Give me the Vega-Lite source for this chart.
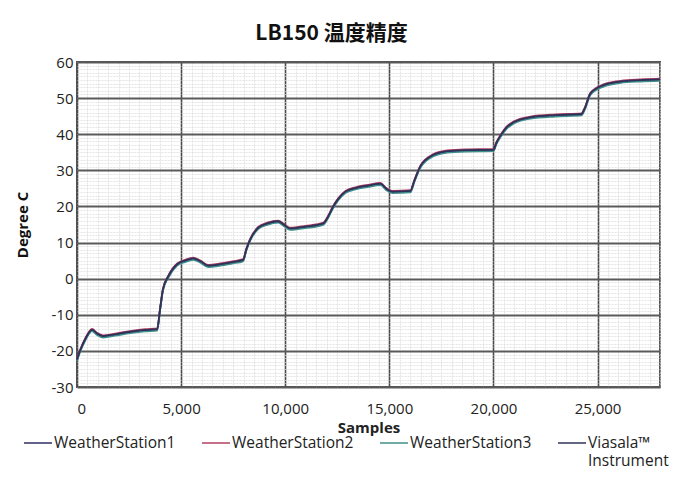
{
  "$schema": "https://vega.github.io/schema/vega-lite/v6.json",
  "width": 583,
  "height": 325,
  "autosize": "none",
  "padding": {"left": 77, "top": 62, "right": 32, "bottom": 94},
  "background": "white",
  "title": {
    "text": "LB150 温度精度",
    "anchor": "middle",
    "dx": -37,
    "offset": 11,
    "font": "Noto Sans CJK SC",
    "fontSize": 21,
    "fontWeight": "bold",
    "color": "#111"
  },
  "data": {
    "values": [
      {"x": 0, "WeatherStation1": -22.5, "WeatherStation2": -22.2, "WeatherStation3": -22.8, "Viasala™ Instrument": -22.4},
      {"x": 150, "WeatherStation1": -20, "WeatherStation2": -19.7, "WeatherStation3": -20.3, "Viasala™ Instrument": -19.9},
      {"x": 400, "WeatherStation1": -16.8, "WeatherStation2": -16.5, "WeatherStation3": -17.1, "Viasala™ Instrument": -16.7},
      {"x": 720, "WeatherStation1": -14.2, "WeatherStation2": -13.9, "WeatherStation3": -14.5, "Viasala™ Instrument": -14.1},
      {"x": 960, "WeatherStation1": -15.3, "WeatherStation2": -15.0, "WeatherStation3": -15.6, "Viasala™ Instrument": -15.2},
      {"x": 1250, "WeatherStation1": -16, "WeatherStation2": -15.7, "WeatherStation3": -16.3, "Viasala™ Instrument": -15.9},
      {"x": 1830, "WeatherStation1": -15.5, "WeatherStation2": -15.2, "WeatherStation3": -15.8, "Viasala™ Instrument": -15.4},
      {"x": 2550, "WeatherStation1": -14.8, "WeatherStation2": -14.5, "WeatherStation3": -15.1, "Viasala™ Instrument": -14.7},
      {"x": 3270, "WeatherStation1": -14.3, "WeatherStation2": -14.0, "WeatherStation3": -14.6, "Viasala™ Instrument": -14.2},
      {"x": 3850, "WeatherStation1": -14.1, "WeatherStation2": -13.8, "WeatherStation3": -14.4, "Viasala™ Instrument": -14.0},
      {"x": 3990, "WeatherStation1": -8.5, "WeatherStation2": -8.2, "WeatherStation3": -8.8, "Viasala™ Instrument": -8.4},
      {"x": 4130, "WeatherStation1": -3, "WeatherStation2": -2.7, "WeatherStation3": -3.3, "Viasala™ Instrument": -2.9},
      {"x": 4380, "WeatherStation1": 0.5, "WeatherStation2": 0.8, "WeatherStation3": 0.2, "Viasala™ Instrument": 0.6},
      {"x": 4810, "WeatherStation1": 3.9, "WeatherStation2": 4.2, "WeatherStation3": 3.6, "Viasala™ Instrument": 4.0},
      {"x": 5190, "WeatherStation1": 4.9, "WeatherStation2": 5.2, "WeatherStation3": 4.6, "Viasala™ Instrument": 5.0},
      {"x": 5580, "WeatherStation1": 5.5, "WeatherStation2": 5.8, "WeatherStation3": 5.2, "Viasala™ Instrument": 5.6},
      {"x": 5910, "WeatherStation1": 4.8, "WeatherStation2": 5.1, "WeatherStation3": 4.5, "Viasala™ Instrument": 4.9},
      {"x": 6300, "WeatherStation1": 3.5, "WeatherStation2": 3.8, "WeatherStation3": 3.2, "Viasala™ Instrument": 3.6},
      {"x": 6880, "WeatherStation1": 3.9, "WeatherStation2": 4.2, "WeatherStation3": 3.6, "Viasala™ Instrument": 4.0},
      {"x": 7450, "WeatherStation1": 4.5, "WeatherStation2": 4.8, "WeatherStation3": 4.2, "Viasala™ Instrument": 4.6},
      {"x": 7980, "WeatherStation1": 5.1, "WeatherStation2": 5.4, "WeatherStation3": 4.8, "Viasala™ Instrument": 5.2},
      {"x": 8130, "WeatherStation1": 8, "WeatherStation2": 8.3, "WeatherStation3": 7.7, "Viasala™ Instrument": 8.1},
      {"x": 8320, "WeatherStation1": 10.8, "WeatherStation2": 11.1, "WeatherStation3": 10.5, "Viasala™ Instrument": 10.9},
      {"x": 8700, "WeatherStation1": 14, "WeatherStation2": 14.3, "WeatherStation3": 13.7, "Viasala™ Instrument": 14.1},
      {"x": 9140, "WeatherStation1": 15.2, "WeatherStation2": 15.5, "WeatherStation3": 14.9, "Viasala™ Instrument": 15.3},
      {"x": 9660, "WeatherStation1": 15.8, "WeatherStation2": 16.1, "WeatherStation3": 15.5, "Viasala™ Instrument": 15.9},
      {"x": 9950, "WeatherStation1": 14.8, "WeatherStation2": 15.1, "WeatherStation3": 14.5, "Viasala™ Instrument": 14.9},
      {"x": 10240, "WeatherStation1": 13.8, "WeatherStation2": 14.1, "WeatherStation3": 13.5, "Viasala™ Instrument": 13.9},
      {"x": 10960, "WeatherStation1": 14.3, "WeatherStation2": 14.6, "WeatherStation3": 14.0, "Viasala™ Instrument": 14.4},
      {"x": 11830, "WeatherStation1": 15.2, "WeatherStation2": 15.5, "WeatherStation3": 14.9, "Viasala™ Instrument": 15.3},
      {"x": 12070, "WeatherStation1": 17.2, "WeatherStation2": 17.5, "WeatherStation3": 16.9, "Viasala™ Instrument": 17.3},
      {"x": 12260, "WeatherStation1": 19.4, "WeatherStation2": 19.7, "WeatherStation3": 19.1, "Viasala™ Instrument": 19.5},
      {"x": 12550, "WeatherStation1": 22, "WeatherStation2": 22.3, "WeatherStation3": 21.7, "Viasala™ Instrument": 22.1},
      {"x": 12890, "WeatherStation1": 24, "WeatherStation2": 24.3, "WeatherStation3": 23.7, "Viasala™ Instrument": 24.1},
      {"x": 13370, "WeatherStation1": 25, "WeatherStation2": 25.3, "WeatherStation3": 24.7, "Viasala™ Instrument": 25.1},
      {"x": 13990, "WeatherStation1": 25.7, "WeatherStation2": 26.0, "WeatherStation3": 25.4, "Viasala™ Instrument": 25.8},
      {"x": 14570, "WeatherStation1": 26.2, "WeatherStation2": 26.5, "WeatherStation3": 25.9, "Viasala™ Instrument": 26.3},
      {"x": 14860, "WeatherStation1": 24.8, "WeatherStation2": 25.1, "WeatherStation3": 24.5, "Viasala™ Instrument": 24.9},
      {"x": 15140, "WeatherStation1": 24, "WeatherStation2": 24.3, "WeatherStation3": 23.7, "Viasala™ Instrument": 24.1},
      {"x": 16010, "WeatherStation1": 24.2, "WeatherStation2": 24.5, "WeatherStation3": 23.9, "Viasala™ Instrument": 24.3},
      {"x": 16200, "WeatherStation1": 27, "WeatherStation2": 27.3, "WeatherStation3": 26.7, "Viasala™ Instrument": 27.1},
      {"x": 16490, "WeatherStation1": 31, "WeatherStation2": 31.3, "WeatherStation3": 30.7, "Viasala™ Instrument": 31.1},
      {"x": 17120, "WeatherStation1": 34.2, "WeatherStation2": 34.5, "WeatherStation3": 33.9, "Viasala™ Instrument": 34.3},
      {"x": 17790, "WeatherStation1": 35.2, "WeatherStation2": 35.5, "WeatherStation3": 34.9, "Viasala™ Instrument": 35.3},
      {"x": 18650, "WeatherStation1": 35.5, "WeatherStation2": 35.8, "WeatherStation3": 35.2, "Viasala™ Instrument": 35.6},
      {"x": 20000, "WeatherStation1": 35.6, "WeatherStation2": 35.9, "WeatherStation3": 35.3, "Viasala™ Instrument": 35.7},
      {"x": 20140, "WeatherStation1": 37.5, "WeatherStation2": 37.8, "WeatherStation3": 37.2, "Viasala™ Instrument": 37.6},
      {"x": 20340, "WeatherStation1": 39.5, "WeatherStation2": 39.8, "WeatherStation3": 39.2, "Viasala™ Instrument": 39.6},
      {"x": 20630, "WeatherStation1": 41.8, "WeatherStation2": 42.1, "WeatherStation3": 41.5, "Viasala™ Instrument": 41.9},
      {"x": 20960, "WeatherStation1": 43.2, "WeatherStation2": 43.5, "WeatherStation3": 42.9, "Viasala™ Instrument": 43.3},
      {"x": 21780, "WeatherStation1": 44.6, "WeatherStation2": 44.9, "WeatherStation3": 44.3, "Viasala™ Instrument": 44.7},
      {"x": 22980, "WeatherStation1": 45.2, "WeatherStation2": 45.5, "WeatherStation3": 44.9, "Viasala™ Instrument": 45.3},
      {"x": 24230, "WeatherStation1": 45.5, "WeatherStation2": 45.8, "WeatherStation3": 45.2, "Viasala™ Instrument": 45.6},
      {"x": 24380, "WeatherStation1": 47, "WeatherStation2": 47.3, "WeatherStation3": 46.7, "Viasala™ Instrument": 47.1},
      {"x": 24660, "WeatherStation1": 51.2, "WeatherStation2": 51.5, "WeatherStation3": 50.9, "Viasala™ Instrument": 51.3},
      {"x": 25290, "WeatherStation1": 53.5, "WeatherStation2": 53.8, "WeatherStation3": 53.2, "Viasala™ Instrument": 53.6},
      {"x": 26110, "WeatherStation1": 54.5, "WeatherStation2": 54.8, "WeatherStation3": 54.2, "Viasala™ Instrument": 54.6},
      {"x": 27070, "WeatherStation1": 54.9, "WeatherStation2": 55.2, "WeatherStation3": 54.6, "Viasala™ Instrument": 55.0},
      {"x": 28000, "WeatherStation1": 55.1, "WeatherStation2": 55.4, "WeatherStation3": 54.8, "Viasala™ Instrument": 55.2}
    ]
  },
  "transform": [
    {"fold": ["WeatherStation1", "WeatherStation2", "WeatherStation3", "Viasala™ Instrument"], "as": ["series", "temp"]}
  ],
  "layer": [
    {
      "mark": {"type": "line", "opacity": 0},
      "encoding": {
        "x": {
          "field": "x", "type": "quantitative",
          "scale": {"domain": [0, 28000], "nice": false},
          "axis": {"orient": "bottom", "tickCount": 56, "grid": true, "gridColor": "#dadada", "gridWidth": 0.7, "gridDash": [2, 1], "labels": false, "ticks": false, "domain": false, "title": null}
        },
        "y": {
          "field": "temp", "type": "quantitative",
          "scale": {"domain": [-30, 60], "nice": false},
          "axis": {"orient": "left", "tickCount": 90, "grid": true, "gridColor": "#dadada", "gridWidth": 0.7, "gridDash": [2, 1], "labels": false, "ticks": false, "domain": false, "title": null}
        },
        "detail": {"field": "series"}
      }
    },
    {
      "mark": {"type": "line", "interpolate": "monotone", "strokeWidth": 1.8},
      "encoding": {
        "x": {
          "field": "x", "type": "quantitative",
          "scale": {"domain": [0, 28000], "nice": false},
          "axis": {
            "orient": "bottom", "values": [0, 5000, 10000, 15000, 20000, 25000],
            "labelExpr": "format(datum.value, ',')",
            "grid": true, "gridColor": "#4a4a4a", "gridWidth": 1.6,
            "ticks": false, "domain": false, "labelPadding": 14,
            "labelFont": "Open Sans", "labelFontSize": 15, "labelColor": "#222",
            "title": "Samples", "titleFont": "Open Sans", "titleFontSize": 15, "titleFontWeight": "bold", "titleColor": "#222", "titlePadding": 4
          }
        },
        "y": {
          "field": "temp", "type": "quantitative",
          "scale": {"domain": [-30, 60], "nice": false},
          "axis": {
            "orient": "left", "values": [-30, -20, -10, 0, 10, 20, 30, 40, 50, 60],
            "labelExpr": "replace(datum.label, '−', '-')",
            "grid": true, "gridColor": "#5a5a5a", "gridWidth": 1.8,
            "ticks": false, "domain": false, "labelPadding": 4,
            "labelFont": "Open Sans", "labelFontSize": 15, "labelColor": "#222",
            "title": "Degree C", "titleFont": "Open Sans", "titleFontSize": 15, "titleFontWeight": "bold", "titleColor": "#111", "titlePadding": 21
          }
        },
        "color": {
          "field": "series", "type": "nominal",
          "sort": ["WeatherStation1", "WeatherStation2", "WeatherStation3", "Viasala™ Instrument"],
          "scale": {
            "domain": ["WeatherStation1", "WeatherStation2", "WeatherStation3", "Viasala™ Instrument"],
            "range": ["#2e2e66", "#b04060", "#3f8f8a", "#30305a"]
          },
          "legend": {
            "orient": "none", "legendX": -54, "legendY": 366,
            "direction": "horizontal", "columns": 4, "title": null,
            "symbolType": "stroke", "symbolSize": 784, "symbolStrokeWidth": 1.5,
            "labelFont": "Open Sans", "labelFontSize": 15.5, "labelColor": "#222", "labelLimit": 300,
            "labelOffset": 1, "columnPadding": 23,
            "labelExpr": "datum.label == 'Viasala™ Instrument' ? ['Viasala™', 'Instrument'] : [datum.label, ' ']"
          }
        }
      }
    }
  ],
  "resolve": {"axis": {"x": "independent", "y": "independent"}},
  "config": {
    "view": {"stroke": "#555", "strokeWidth": 2}
  }
}
